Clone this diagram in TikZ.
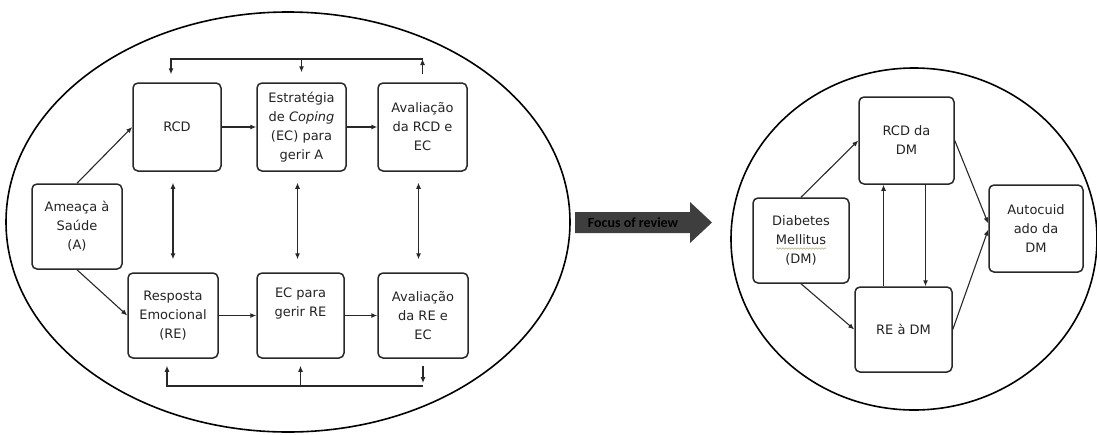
\documentclass[tikz,border=0pt]{standalone}
\usepackage{fontspec}
\setmainfont{DejaVu Sans}
\newfontfamily\carlito{Carlito}
\usetikzlibrary{arrows.meta,decorations.pathmorphing}

\begin{document}
\begin{tikzpicture}[x=1pt,y=-1pt,font=\fontsize{13}{19}\selectfont,
	caixa/.style={draw=linha,line width=1.5pt,rounded corners=5pt,align=center,text=texto,inner sep=2pt},
	seta/.style={draw=linha,line width=1.1pt,-{Latex[length=6pt,width=5pt]}},
	setadupla/.style={seta,{Latex[length=6pt,width=5pt]}-{Latex[length=6pt,width=5pt]}}]
	%%% Cores
	\definecolor{linha}{RGB}{40,40,40}   % contornos
	\definecolor{texto}{RGB}{35,35,35}   % texto das caixas
	\definecolor{foco}{RGB}{62,62,62}    % seta central

	\useasboundingbox (0,0) rectangle (1097,434);

	%%% Elipses
	\draw[line width=1.6pt] (288,222) ellipse [x radius=282, y radius=210];
	\draw[line width=1.6pt] (914,239) ellipse [x radius=183, y radius=171];

	%%% Modelo de auto-regulacao (esquerda)
	\node[caixa,minimum width=88,minimum height=88] (rcd) at (177,127) {RCD};
	\node[caixa,minimum width=89,minimum height=88] (estr) at (301.5,127) {Estratégia\\de \textit{Coping}\\(EC) para\\gerir A};
	\node[caixa,minimum width=89,minimum height=88] (avrcd) at (422.5,127) {Avaliação\\da RCD e\\EC};
	\node[caixa,minimum width=90,minimum height=85] (ameaca) at (77,226.5) {Ameaça à\\Saúde\\(A)};
	\node[caixa,minimum width=90,minimum height=85] (resp) at (173,315.5) {Resposta\\Emocional\\(RE)};
	\node[caixa,minimum width=87,minimum height=85] (ecre) at (300.5,315.5) {EC para\\gerir RE\\[8pt]};
	\node[caixa,minimum width=90,minimum height=85] (avre) at (423,315.5) {Avaliação\\da RE e\\EC};

	\coordinate (topo) at (0,59);
	\coordinate (base) at (0,386);

	\draw[seta] (ameaca.north) -- (rcd.west);
	\draw[seta] (ameaca.south) -- (resp.west);
	\draw[seta] (rcd) -- (estr);
	\draw[seta] (estr) -- (avrcd);
	\draw[seta] (resp) -- (ecre);
	\draw[seta] (ecre) -- (avre);

	% ligacoes verticais
	\foreach \a/\b in {rcd/resp,estr/ecre,avrcd/avre}
		\draw[setadupla,shorten <=11pt,shorten >=13pt] ([xshift=-4pt]\a.south) -- ([xshift=-4pt]\a.south |- \b.north);

	% retroacao superior
	\draw[seta,shorten <=8pt] (avrcd.north) -- (avrcd.north |- topo);
	\draw[seta,shorten >=8pt] (avrcd.north |- topo) -| ([xshift=-6pt]rcd.north);
	\draw[seta,shorten >=10pt] (estr.north |- topo) -- (estr.north);

	% retroacao inferior
	\draw[seta,shorten <=7pt,shorten >=3pt] (avre.south) -- (avre.south |- base);
	\draw[seta,shorten >=7pt] (avre.south |- base) -| ([xshift=-6pt]resp.south);
	\draw[seta,shorten >=7pt] (ecre.south |- base) -- (ecre.south);

	%%% Seta central
	\fill[foco] (575,212) -- (690,212) -- (690,202) -- (712,222.5) -- (690,243) -- (690,233) -- (575,233) -- cycle;
	\node[font=\carlito\bfseries\fontsize{14}{15}\selectfont,text=black] (focolbl) at (633,222.5) {Focus of review};

	%%% Modelo aplicado a DM (direita)
	\node[caixa,minimum width=95,minimum height=87] (rcddm) at (906.5,140.5) {RCD da\\DM};
	\node[caixa,minimum width=96,minimum height=85] (diab) at (801,240.5) {Diabetes\\Mellitus\\(DM)};
	\node[caixa,minimum width=94,minimum height=87] (auto) at (1036,228.5) {Autocuid\\ado da\\DM};
	\node[caixa,minimum width=97,minimum height=85] (redm) at (903.5,329.5) {RE à DM};

	% sublinhado ondulado do corretor
	\draw[gray!70!yellow,line width=0.5pt,decorate,decoration={snake,amplitude=0.8pt,segment length=3pt}]
		([xshift=-25pt,yshift=-8pt]diab.center) -- ([xshift=25pt,yshift=-8pt]diab.center);

	\draw[seta] (diab.north) -- (rcddm.west);
	\draw[seta] (diab.south) -- (redm.west);
	\draw[seta] ([xshift=-20pt]redm.north) -- ([xshift=-20pt]redm.north |- rcddm.south);
	\draw[seta] ([xshift=19pt]rcddm.south) -- ([xshift=19pt]rcddm.south |- redm.north);
	\draw[seta] (rcddm.east) -- ([yshift=5pt]auto.west);
	\draw[seta] (redm.east) -- ([yshift=-1pt]auto.west);
\end{tikzpicture}
\end{document}
